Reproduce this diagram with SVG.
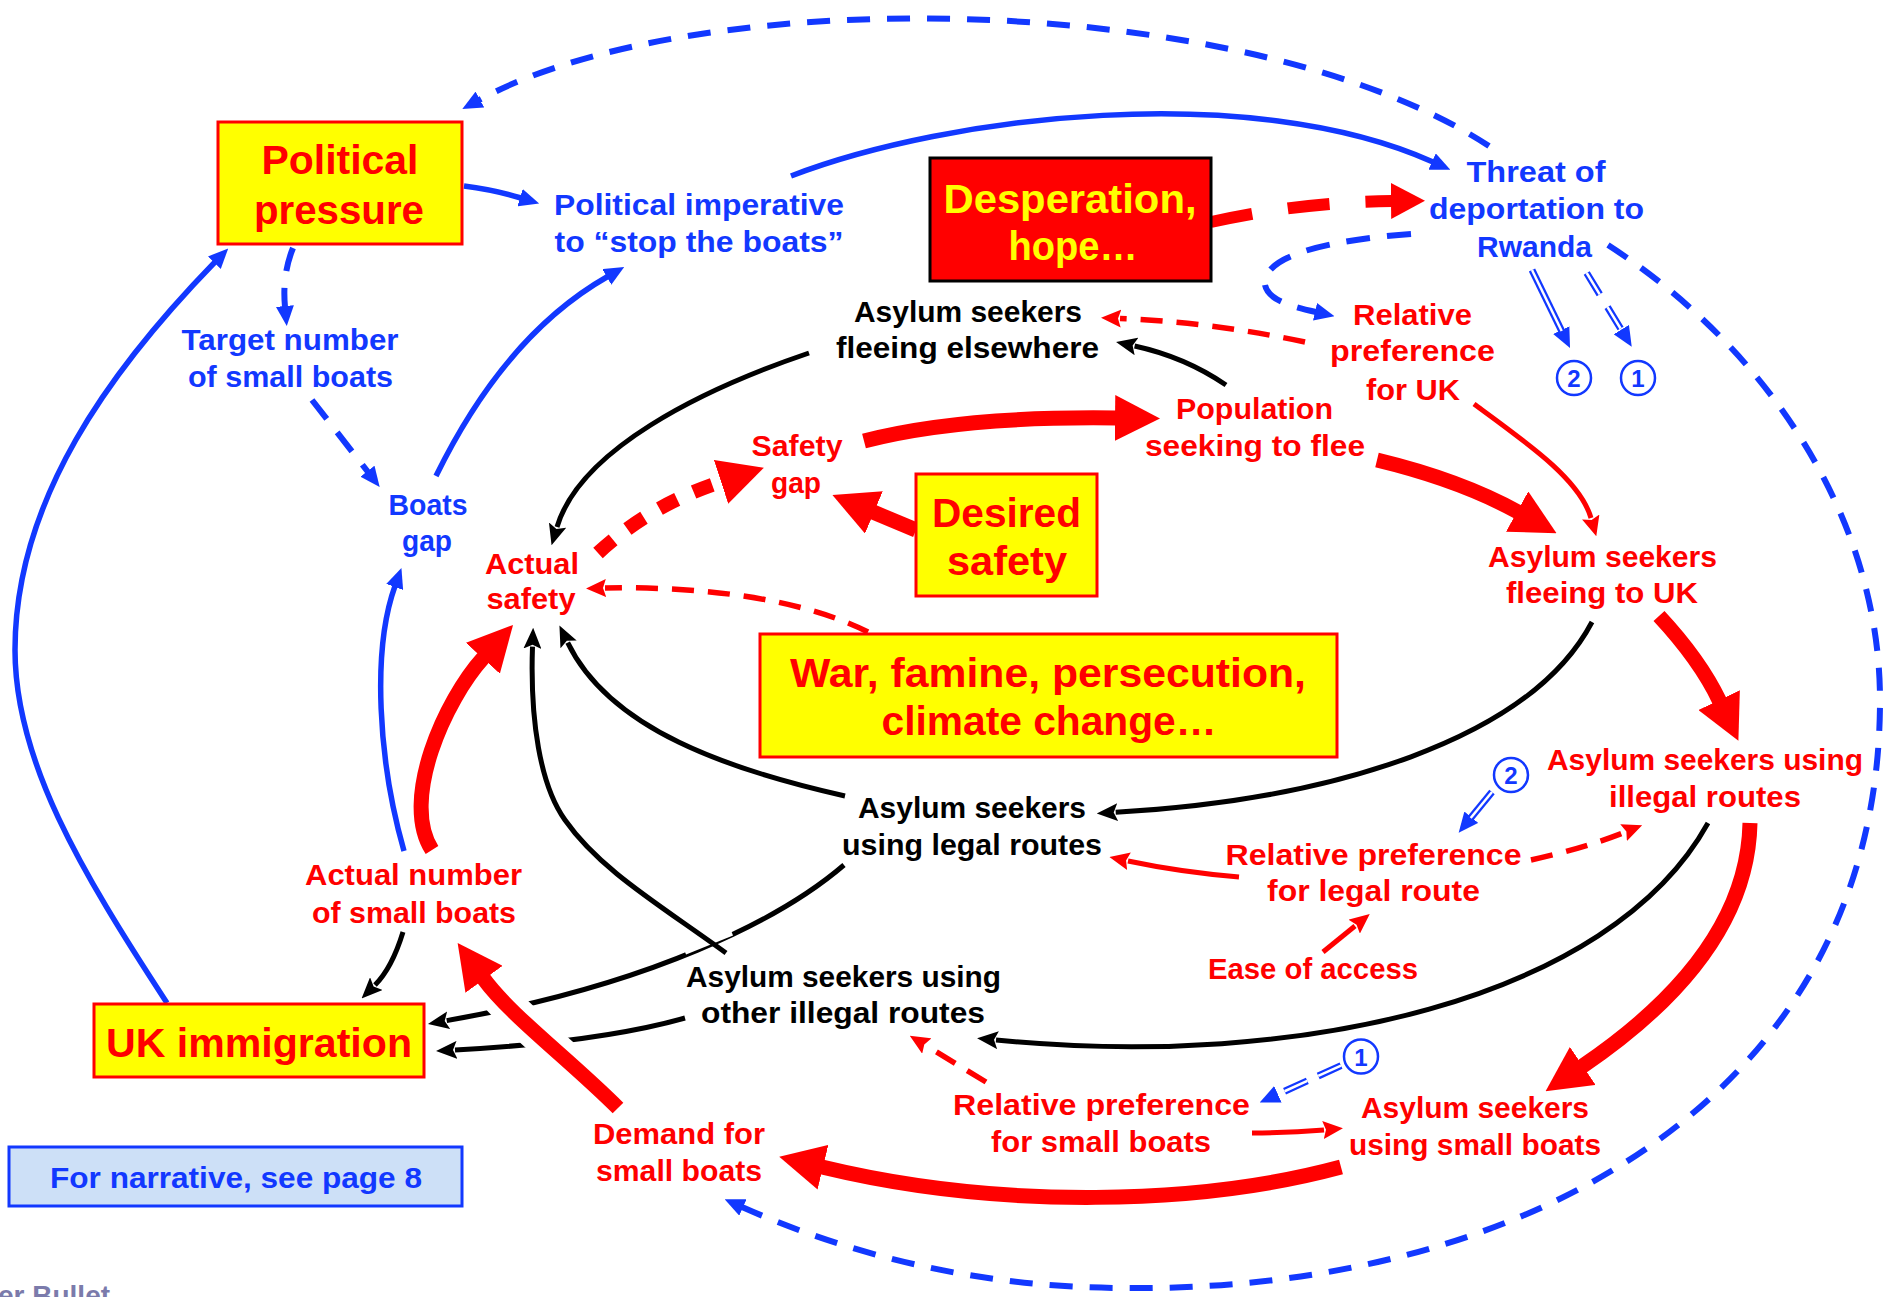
<svg xmlns="http://www.w3.org/2000/svg" width="1894" height="1297" viewBox="0 0 1894 1297">
<style>
.t{font-family:"Liberation Sans",Arial,sans-serif;font-weight:bold;font-size:30px;text-anchor:middle}
.big{font-size:41px}
.r{fill:#ff0000}.b{fill:#1238ff}.k{fill:#000}.y{fill:#ffff00}
.c{fill:none}
.cb{stroke:#1238ff;stroke-width:5.5}
.cbd{stroke:#1238ff;stroke-width:6;stroke-dasharray:24 17}
.cbl{stroke:#1238ff;stroke-width:6;stroke-dasharray:23 17}
.ck{stroke:#000;stroke-width:5}
.cr{stroke:#ff0000;stroke-width:5}
.crd{stroke:#ff0000;stroke-width:5.5;stroke-dasharray:22 14}
.crt{stroke:#ff0000;stroke-width:15}
.dbl{stroke:#1238ff;stroke-width:7}
.dblw{stroke:#fff;stroke-width:2.5}
.box{stroke-width:3}
.circ{fill:none;stroke:#1238ff;stroke-width:2.5}
.num{font-family:"Liberation Sans",Arial,sans-serif;font-weight:bold;font-size:24px;text-anchor:middle;fill:#1238ff}
</style>
<defs>
<marker id="mb" viewBox="0 0 20 18" refX="1" refY="9" markerWidth="20" markerHeight="18" markerUnits="userSpaceOnUse" orient="auto"><path d="M0,0L20,9L0,18z" fill="#1238ff"/></marker>
<marker id="mk" viewBox="0 0 21 18" refX="2" refY="9" markerWidth="21" markerHeight="18" markerUnits="userSpaceOnUse" orient="auto"><path d="M0,0L21,9L0,18L4,9z" fill="#000"/></marker>
<marker id="mr" viewBox="0 0 20 18" refX="1" refY="9" markerWidth="20" markerHeight="18" markerUnits="userSpaceOnUse" orient="auto"><path d="M0,0L20,9L0,18L3,9z" fill="#ff0000"/></marker>
<marker id="mR" viewBox="0 0 45 46" refX="1" refY="23" markerWidth="45" markerHeight="46" markerUnits="userSpaceOnUse" orient="auto"><path d="M0,0L45,23L0,46z" fill="#ff0000"/></marker>
<marker id="mR2" viewBox="0 0 34 36" refX="1" refY="18" markerWidth="34" markerHeight="36" markerUnits="userSpaceOnUse" orient="auto"><path d="M0,0L34,18L0,36z" fill="#ff0000"/></marker>
</defs>
<rect width="1894" height="1297" fill="#fff"/>

<g id="connectors">
  <!-- blue -->
  <path class="c cbl" d="M1489,146 C1250,-10 700,-20 479,100" marker-end="url(#mb)"/>
  <path class="c cb" d="M791,176 C950,115 1250,80 1433,162" marker-end="url(#mb)"/>
  <path class="c cb" d="M464,186 Q495,190 521,198" marker-end="url(#mb)"/>
  <path class="c cbd" d="M293,248 Q282,275 285,307" marker-end="url(#mb)"/>
  <path class="c cbd" d="M312,400 L368,472" marker-end="url(#mb)"/>
  <path class="c cb" d="M436,476 Q505,335 607.7,276.5" marker-end="url(#mb)"/>
  <path class="c cb" d="M404,851 C378,760 372,650 395,586" marker-end="url(#mb)"/>
  <path class="c cb" d="M167,1003 C80,870 15,760 15,650 C15,500 110,370 215,262" marker-end="url(#mb)"/>
  <path class="c cbl" d="M1608,245 C1770,350 1880,520 1880,700 C1880,1100 1520,1292 1126,1288 C980,1288 850,1255 742,1207" marker-end="url(#mb)"/>
  <path class="c cbd" d="M1411,234 C1330,240 1262,255 1265,285 C1268,300 1290,306 1316,312" stroke-dasharray="20 14" marker-end="url(#mb)"/>
  <!-- double-line arrows -->
  <path class="c dbl" d="M1532,270 L1561.7,331" marker-end="url(#mb)"/>
  <path class="c dblw" d="M1532,270 L1561.7,331"/>
  <path class="c dbl" d="M1586.7,273 L1621.8,330.5" stroke-dasharray="25 15" marker-end="url(#mb)"/>
  <path class="c dblw" d="M1586.7,273 L1621.8,330.5" stroke-dasharray="25 15"/>
  <path class="c dbl" d="M1492,792 L1470.7,818" marker-end="url(#mb)"/>
  <path class="c dblw" d="M1492,792 L1470.7,818"/>
  <path class="c dbl" d="M1341,1065.6 L1277,1094.7" stroke-dasharray="25 12" marker-end="url(#mb)"/>
  <path class="c dblw" d="M1341,1065.6 L1277,1094.7" stroke-dasharray="25 12"/>

  <!-- black -->
  <path class="c ck" d="M1226,385 Q1185,357 1134.6,346" marker-end="url(#mk)"/>
  <path class="c ck" d="M809,353 C700,390 580,450 557,527" marker-end="url(#mk)"/>
  <path class="c ck" d="M1592,622 C1530,740 1330,800 1115.7,812.3" marker-end="url(#mk)"/>
  <path class="c ck" d="M845,796 C730,770 610,730 567.7,642.6" marker-end="url(#mk)"/>
  <path class="c ck" d="M1708,823 C1610,1000 1300,1070 996,1040" marker-end="url(#mk)"/>
  <path class="c ck" d="M403,932 Q392,968 375,985" marker-end="url(#mk)"/>
  <path class="c ck" d="M844,865 C780,920 650,985 446.7,1020.6" marker-end="url(#mk)"/>
  <path class="c ck" d="M685,1018 Q600,1042 455,1050" marker-end="url(#mk)"/>
  <path class="c" stroke="#fff" stroke-width="11" d="M731,930.5 L684,949.5"/>
  <path class="c ck" d="M726,953 C660,905 600,870 565,820 C540,785 530,720 532.5,646.7" marker-end="url(#mk)"/>

  <!-- red -->
  <path class="c" stroke="#ff0000" stroke-width="12" stroke-dasharray="42 36" d="M1211,222 Q1300,202 1392,201" marker-end="url(#mR2)"/>
  <path class="c crd" d="M1305,342 Q1210,322 1120,318.5" marker-end="url(#mr)"/>
  <path class="c crt" d="M864,441 Q960,416 1116,418" marker-end="url(#mR)"/>
  <path class="c crt" d="M1377,460 Q1460,480 1518,512" marker-end="url(#mR)"/>
  <path class="c cr" d="M1474,404 C1530,445 1580,480 1591,518" marker-end="url(#mr)"/>
  <path class="c crt" d="M1659,616 Q1700,660 1719.5,701" marker-end="url(#mR)"/>
  <path class="c crt" d="M1750,823 C1748,920 1680,1000 1582,1066.5" marker-end="url(#mR)"/>
  <path class="c crt" d="M1341,1167 C1200,1205 1000,1210 822,1167" marker-end="url(#mR)"/>
  <path class="c" stroke="#fff" stroke-width="36" d="M618,1108 C570,1060 510,1015 483.5,978.5"/>
  <path class="c crt" d="M618,1108 C570,1060 510,1015 483.5,978.5" marker-end="url(#mR)"/>
  <path class="c crt" d="M432,850 C400,800 445,700 483.5,657.5" marker-end="url(#mR)"/>
  <path class="c" stroke="#ff0000" stroke-width="14" stroke-dasharray="20 18" d="M598,553 Q650,505 722,481.5" marker-end="url(#mR)"/>
  <path class="c crt" d="M916,530 L873,512" marker-end="url(#mR)"/>
  <path class="c crd" d="M868,632 C800,598 700,586 605,588" marker-end="url(#mr)"/>
  <path class="c cr" d="M1239,877 Q1180,872 1128,861" marker-end="url(#mr)"/>
  <path class="c crd" d="M1531,860 Q1585,848 1624.5,832.3" stroke-dasharray="18 12" marker-end="url(#mr)"/>
  <path class="c cr" d="M1323,952 L1355,926" marker-end="url(#mr)"/>
  <path class="c crd" d="M986,1082 L926,1045.5" stroke-dasharray="18 12" marker-end="url(#mr)"/>
  <path class="c cr" d="M1252,1133 Q1290,1133 1324,1130" marker-end="url(#mr)"/>
</g>

<g id="political-pressure">
  <rect x="218" y="122" width="244" height="122" class="box" fill="#ffff00" stroke="#ff0000"/>
  <text class="t big r" x="340" y="174" textLength="157" lengthAdjust="spacingAndGlyphs">Political</text>
  <text class="t big r" x="339" y="224" textLength="170" lengthAdjust="spacingAndGlyphs">pressure</text>
</g>
<g id="political-imperative">
  <text class="t b" x="699" y="215" textLength="290" lengthAdjust="spacingAndGlyphs">Political imperative</text>
  <text class="t b" x="699" y="252" textLength="289" lengthAdjust="spacingAndGlyphs">to “stop the boats”</text>
</g>
<g id="target-number">
  <text class="t b" x="290" y="350" textLength="217" lengthAdjust="spacingAndGlyphs">Target number</text>
  <text class="t b" x="290.5" y="387" textLength="205" lengthAdjust="spacingAndGlyphs">of small boats</text>
</g>
<g id="boats-gap">
  <text class="t b" x="428" y="515" textLength="79" lengthAdjust="spacingAndGlyphs">Boats</text>
  <text class="t b" x="427" y="551" textLength="50" lengthAdjust="spacingAndGlyphs">gap</text>
</g>
<g id="actual-safety">
  <text class="t r" x="532" y="574" textLength="94" lengthAdjust="spacingAndGlyphs">Actual</text>
  <text class="t r" x="531" y="609" textLength="89" lengthAdjust="spacingAndGlyphs">safety</text>
</g>
<g id="safety-gap">
  <text class="t r" x="797" y="456" textLength="91" lengthAdjust="spacingAndGlyphs">Safety</text>
  <text class="t r" x="796" y="493" textLength="50" lengthAdjust="spacingAndGlyphs">gap</text>
</g>
<g id="desperation-hope">
  <rect x="930" y="158" width="281" height="123" class="box" fill="#ff0000" stroke="#000"/>
  <text class="t big y" x="1070" y="213" textLength="253" lengthAdjust="spacingAndGlyphs">Desperation,</text>
  <text class="t big y" x="1073" y="260" textLength="129" lengthAdjust="spacingAndGlyphs">hope…</text>
</g>
<g id="threat-of-deportation">
  <text class="t b" x="1536" y="182" textLength="139" lengthAdjust="spacingAndGlyphs">Threat of</text>
  <text class="t b" x="1536.5" y="219" textLength="215" lengthAdjust="spacingAndGlyphs">deportation to</text>
  <text class="t b" x="1534.5" y="257" textLength="115" lengthAdjust="spacingAndGlyphs">Rwanda</text>
</g>
<g id="fleeing-elsewhere">
  <text class="t k" x="968" y="321.7" textLength="228" lengthAdjust="spacingAndGlyphs">Asylum seekers</text>
  <text class="t k" x="967.5" y="358" textLength="263" lengthAdjust="spacingAndGlyphs">fleeing elsewhere</text>
</g>
<g id="relative-preference-uk">
  <text class="t r" x="1412.5" y="325" textLength="119" lengthAdjust="spacingAndGlyphs">Relative</text>
  <text class="t r" x="1412.5" y="361" textLength="165" lengthAdjust="spacingAndGlyphs">preference</text>
  <text class="t r" x="1413" y="400" textLength="94" lengthAdjust="spacingAndGlyphs">for UK</text>
</g>
<g id="population">
  <text class="t r" x="1254.5" y="419" textLength="157" lengthAdjust="spacingAndGlyphs">Population</text>
  <text class="t r" x="1255" y="456" textLength="220" lengthAdjust="spacingAndGlyphs">seeking to flee</text>
</g>
<g id="desired-safety">
  <rect x="916" y="474" width="181" height="122" class="box" fill="#ffff00" stroke="#ff0000"/>
  <text class="t big r" x="1006.5" y="526.6" textLength="149" lengthAdjust="spacingAndGlyphs">Desired</text>
  <text class="t big r" x="1007" y="575" textLength="120" lengthAdjust="spacingAndGlyphs">safety</text>
</g>
<g id="war-famine">
  <rect x="760" y="634" width="577" height="123" class="box" fill="#ffff00" stroke="#ff0000"/>
  <text class="t big r" x="1048" y="686.6" textLength="516" lengthAdjust="spacingAndGlyphs">War, famine, persecution,</text>
  <text class="t big r" x="1049" y="735" textLength="335" lengthAdjust="spacingAndGlyphs">climate change…</text>
</g>
<g id="fleeing-to-uk">
  <text class="t r" x="1602.5" y="567" textLength="229" lengthAdjust="spacingAndGlyphs">Asylum seekers</text>
  <text class="t r" x="1602" y="603" textLength="192" lengthAdjust="spacingAndGlyphs">fleeing to UK</text>
</g>
<g id="illegal-routes">
  <text class="t r" x="1705" y="770" textLength="316" lengthAdjust="spacingAndGlyphs">Asylum seekers using</text>
  <text class="t r" x="1705" y="806.6" textLength="192" lengthAdjust="spacingAndGlyphs">illegal routes</text>
</g>
<g id="legal-routes">
  <text class="t k" x="972" y="818" textLength="228" lengthAdjust="spacingAndGlyphs">Asylum seekers</text>
  <text class="t k" x="972" y="855" textLength="260" lengthAdjust="spacingAndGlyphs">using legal routes</text>
</g>
<g id="relative-preference-legal">
  <text class="t r" x="1373.5" y="864.6" textLength="296" lengthAdjust="spacingAndGlyphs">Relative preference</text>
  <text class="t r" x="1373.5" y="901" textLength="213" lengthAdjust="spacingAndGlyphs">for legal route</text>
</g>
<g id="ease-of-access">
  <text class="t r" x="1313" y="978.6" textLength="210" lengthAdjust="spacingAndGlyphs">Ease of access</text>
</g>
<g id="other-illegal-routes">
  <text class="t k" x="843.5" y="986.7" textLength="315" lengthAdjust="spacingAndGlyphs">Asylum seekers using</text>
  <text class="t k" x="843" y="1023" textLength="284" lengthAdjust="spacingAndGlyphs">other illegal routes</text>
</g>
<g id="actual-number-small-boats">
  <text class="t r" x="413.5" y="885" textLength="217" lengthAdjust="spacingAndGlyphs">Actual number</text>
  <text class="t r" x="414" y="923" textLength="204" lengthAdjust="spacingAndGlyphs">of small boats</text>
</g>
<g id="uk-immigration">
  <rect x="94" y="1004" width="330" height="73" class="box" fill="#ffff00" stroke="#ff0000"/>
  <text class="t big r" x="259" y="1057" textLength="306" lengthAdjust="spacingAndGlyphs">UK immigration</text>
</g>
<g id="relative-preference-small-boats">
  <text class="t r" x="1101.5" y="1114.5" textLength="297" lengthAdjust="spacingAndGlyphs">Relative preference</text>
  <text class="t r" x="1101" y="1152" textLength="220" lengthAdjust="spacingAndGlyphs">for small boats</text>
</g>
<g id="small-boats">
  <text class="t r" x="1475" y="1118" textLength="228" lengthAdjust="spacingAndGlyphs">Asylum seekers</text>
  <text class="t r" x="1475" y="1155" textLength="252" lengthAdjust="spacingAndGlyphs">using small boats</text>
</g>
<g id="demand-small-boats">
  <text class="t r" x="679" y="1143.6" textLength="172" lengthAdjust="spacingAndGlyphs">Demand for</text>
  <text class="t r" x="679" y="1180.5" textLength="166" lengthAdjust="spacingAndGlyphs">small boats</text>
</g>
<g id="circled-numbers">
  <circle class="circ" cx="1574" cy="378" r="17"/><text class="num" x="1574" y="387">2</text>
  <circle class="circ" cx="1638" cy="378" r="17"/><text class="num" x="1638" y="387">1</text>
  <circle class="circ" cx="1511" cy="775" r="17"/><text class="num" x="1511" y="784">2</text>
  <circle class="circ" cx="1361" cy="1056.5" r="17"/><text class="num" x="1361" y="1065.5">1</text>
</g>
<g id="narrative-note">
  <rect x="9" y="1147" width="453" height="59" class="box" fill="#cde0f7" stroke="#1238ff"/>
  <text class="t b" x="236" y="1188" textLength="372" lengthAdjust="spacingAndGlyphs">For narrative, see page 8</text>
</g>
<g id="footer">
  <text x="-2" y="1305" font-family="Liberation Sans, Arial, sans-serif" font-weight="bold" font-size="28" fill="#7b7bab">er Bullet</text>
</g>
</svg>
